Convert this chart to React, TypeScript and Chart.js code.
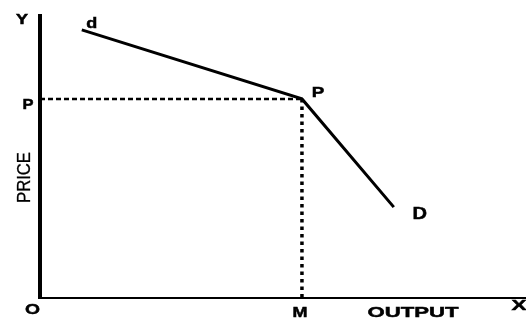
import React, { useEffect, useRef } from "react";
import { Chart, registerables } from "chart.js";

Chart.register(...registerables);

// ---- data (output 0..100, price 0..100) ----
const curveOutput = [8.6, 53.9, 72.8]; // d start, kink P, D end
const curvePrice = [94.4, 70.1, 32.0];
const kinkOutput = 53.9;
const kinkPrice = 70.1;
const axisMax = 100;

// ---- text ----
const yAxisLetter = "Y";
const xAxisLetter = "X";
const originLabel = "O";
const priceTickLabel = "P";
const outputTickLabel = "M";
const kinkLabel = "P";
const upperCurveLabel = "d";
const lowerCurveLabel = "D";
const yAxisTitle = "PRICE";
const xAxisTitle = "OUTPUT";

const FONT = '"Liberation Sans", Arial, Helvetica, sans-serif';

function drawFitted(
  ctx: CanvasRenderingContext2D,
  text: string,
  cx: number,
  cy: number,
  w: number,
  h: number,
  weight: string,
  rot = 0,
  stroke = 0.5
) {
  const size = h / 0.716;
  ctx.save();
  ctx.font = `${weight} ${size}px ${FONT}`;
  const m = ctx.measureText(text);
  const sx = w / m.width;
  ctx.translate(cx, cy);
  if (rot) ctx.rotate(rot);
  ctx.scale(sx, 1);
  ctx.textAlign = "center";
  ctx.textBaseline = "alphabetic";
  ctx.fillStyle = "#000";
  ctx.fillText(text, 0, h / 2);
  if (stroke > 0) {
    ctx.strokeStyle = "#000";
    ctx.lineWidth = stroke;
    ctx.strokeText(text, 0, h / 2);
  }
  ctx.restore();
}

const diagramPlugin = {
  id: "diagram",
  beforeDatasetsDraw(chart: any) {
    const { ctx } = chart;
    const xs = chart.scales.x;
    const ys = chart.scales.y;
    const x0 = xs.getPixelForValue(0);
    const y0 = ys.getPixelForValue(0);
    ctx.save();
    ctx.strokeStyle = "#000";
    ctx.lineCap = "butt";
    // Y axis
    ctx.lineWidth = 4;
    ctx.beginPath();
    ctx.moveTo(x0, ys.getPixelForValue(axisMax));
    ctx.lineTo(x0, y0 + 1);
    ctx.stroke();
    // X axis
    ctx.lineWidth = 2;
    ctx.beginPath();
    ctx.moveTo(x0 - 2, y0);
    ctx.lineTo(xs.getPixelForValue(axisMax), y0);
    ctx.stroke();
    ctx.restore();
  },
  afterDatasetsDraw(chart: any) {
    const { ctx } = chart;
    const xs = chart.scales.x;
    const ys = chart.scales.y;
    const left = xs.getPixelForValue(0);
    const bottom = ys.getPixelForValue(0);
    const top = ys.getPixelForValue(axisMax);
    const right = xs.getPixelForValue(axisMax);
    const kx = xs.getPixelForValue(kinkOutput);
    const ky = ys.getPixelForValue(kinkPrice);
    const dx = xs.getPixelForValue(curveOutput[0]);
    const dy = ys.getPixelForValue(curvePrice[0]);
    const Dx = xs.getPixelForValue(curveOutput[2]);
    const Dy = ys.getPixelForValue(curvePrice[2]);

    drawFitted(ctx, yAxisLetter, left - 18, top + 5, 12, 10, "bold");
    drawFitted(ctx, upperCurveLabel, dx + 10, dy - 7, 11, 11, "bold");
    drawFitted(ctx, priceTickLabel, left - 12, ky + 4.5, 11, 11, "bold");
    drawFitted(ctx, kinkLabel, kx + 16, ky - 7, 12.5, 11, "bold");
    drawFitted(ctx, lowerCurveLabel, Dx + 26, Dy + 6, 14.5, 12, "bold");
    drawFitted(ctx, originLabel, left - 7.5, bottom + 10, 15, 11, "bold");
    drawFitted(ctx, outputTickLabel, kx - 2, bottom + 13, 15, 11, "bold");
    drawFitted(ctx, xAxisTitle, 413, bottom + 13, 91, 11, "bold");
    drawFitted(ctx, xAxisLetter, right - 7, bottom + 6, 15, 11, "bold");
    drawFitted(ctx, yAxisTitle, 23.5, 177.5, 51, 13.5, "normal", -Math.PI / 2, 0.3);
  },
};

export default function App() {
  const ref = useRef<HTMLCanvasElement | null>(null);

  useEffect(() => {
    document.body.style.margin = "0";
    const canvas = ref.current;
    if (!canvas) return;
    const chart = new Chart(canvas, {
      type: "scatter",
      data: {
        datasets: [
          {
            data: curveOutput.map((x, i) => ({ x, y: curvePrice[i] })),
            showLine: true,
            borderColor: "#000",
            borderWidth: 3,
            pointRadius: 0,
            tension: 0,
          },
          {
            data: [
              { x: 0, y: kinkPrice },
              { x: kinkOutput, y: kinkPrice },
            ],
            showLine: true,
            borderColor: "#000",
            borderWidth: 2.5,
            borderDash: [5, 3],
            borderCapStyle: "butt",
            pointRadius: 0,
          },
          {
            data: [
              { x: kinkOutput, y: kinkPrice },
              { x: kinkOutput, y: 0 },
            ],
            showLine: true,
            borderColor: "#000",
            borderWidth: 3.5,
            borderDash: [3.5, 4],
            borderCapStyle: "butt",
            pointRadius: 0,
          },
        ],
      },
      options: {
        animation: false,
        responsive: false,
        devicePixelRatio: 1,
        layout: { padding: { left: 40, top: 14, right: 0, bottom: 22 } },
        plugins: {
          legend: { display: false },
          tooltip: { enabled: false },
        },
        scales: {
          x: { type: "linear", min: 0, max: axisMax, display: false },
          y: { type: "linear", min: 0, max: axisMax, display: false },
        },
      },
      plugins: [diagramPlugin],
    } as any);
    return () => chart.destroy();
  }, []);

  return (
    <div style={{ position: "fixed", left: 0, top: 0, width: 526, height: 320, background: "#fff" }}>
      <canvas ref={ref} width={526} height={320} />
    </div>
  );
}
